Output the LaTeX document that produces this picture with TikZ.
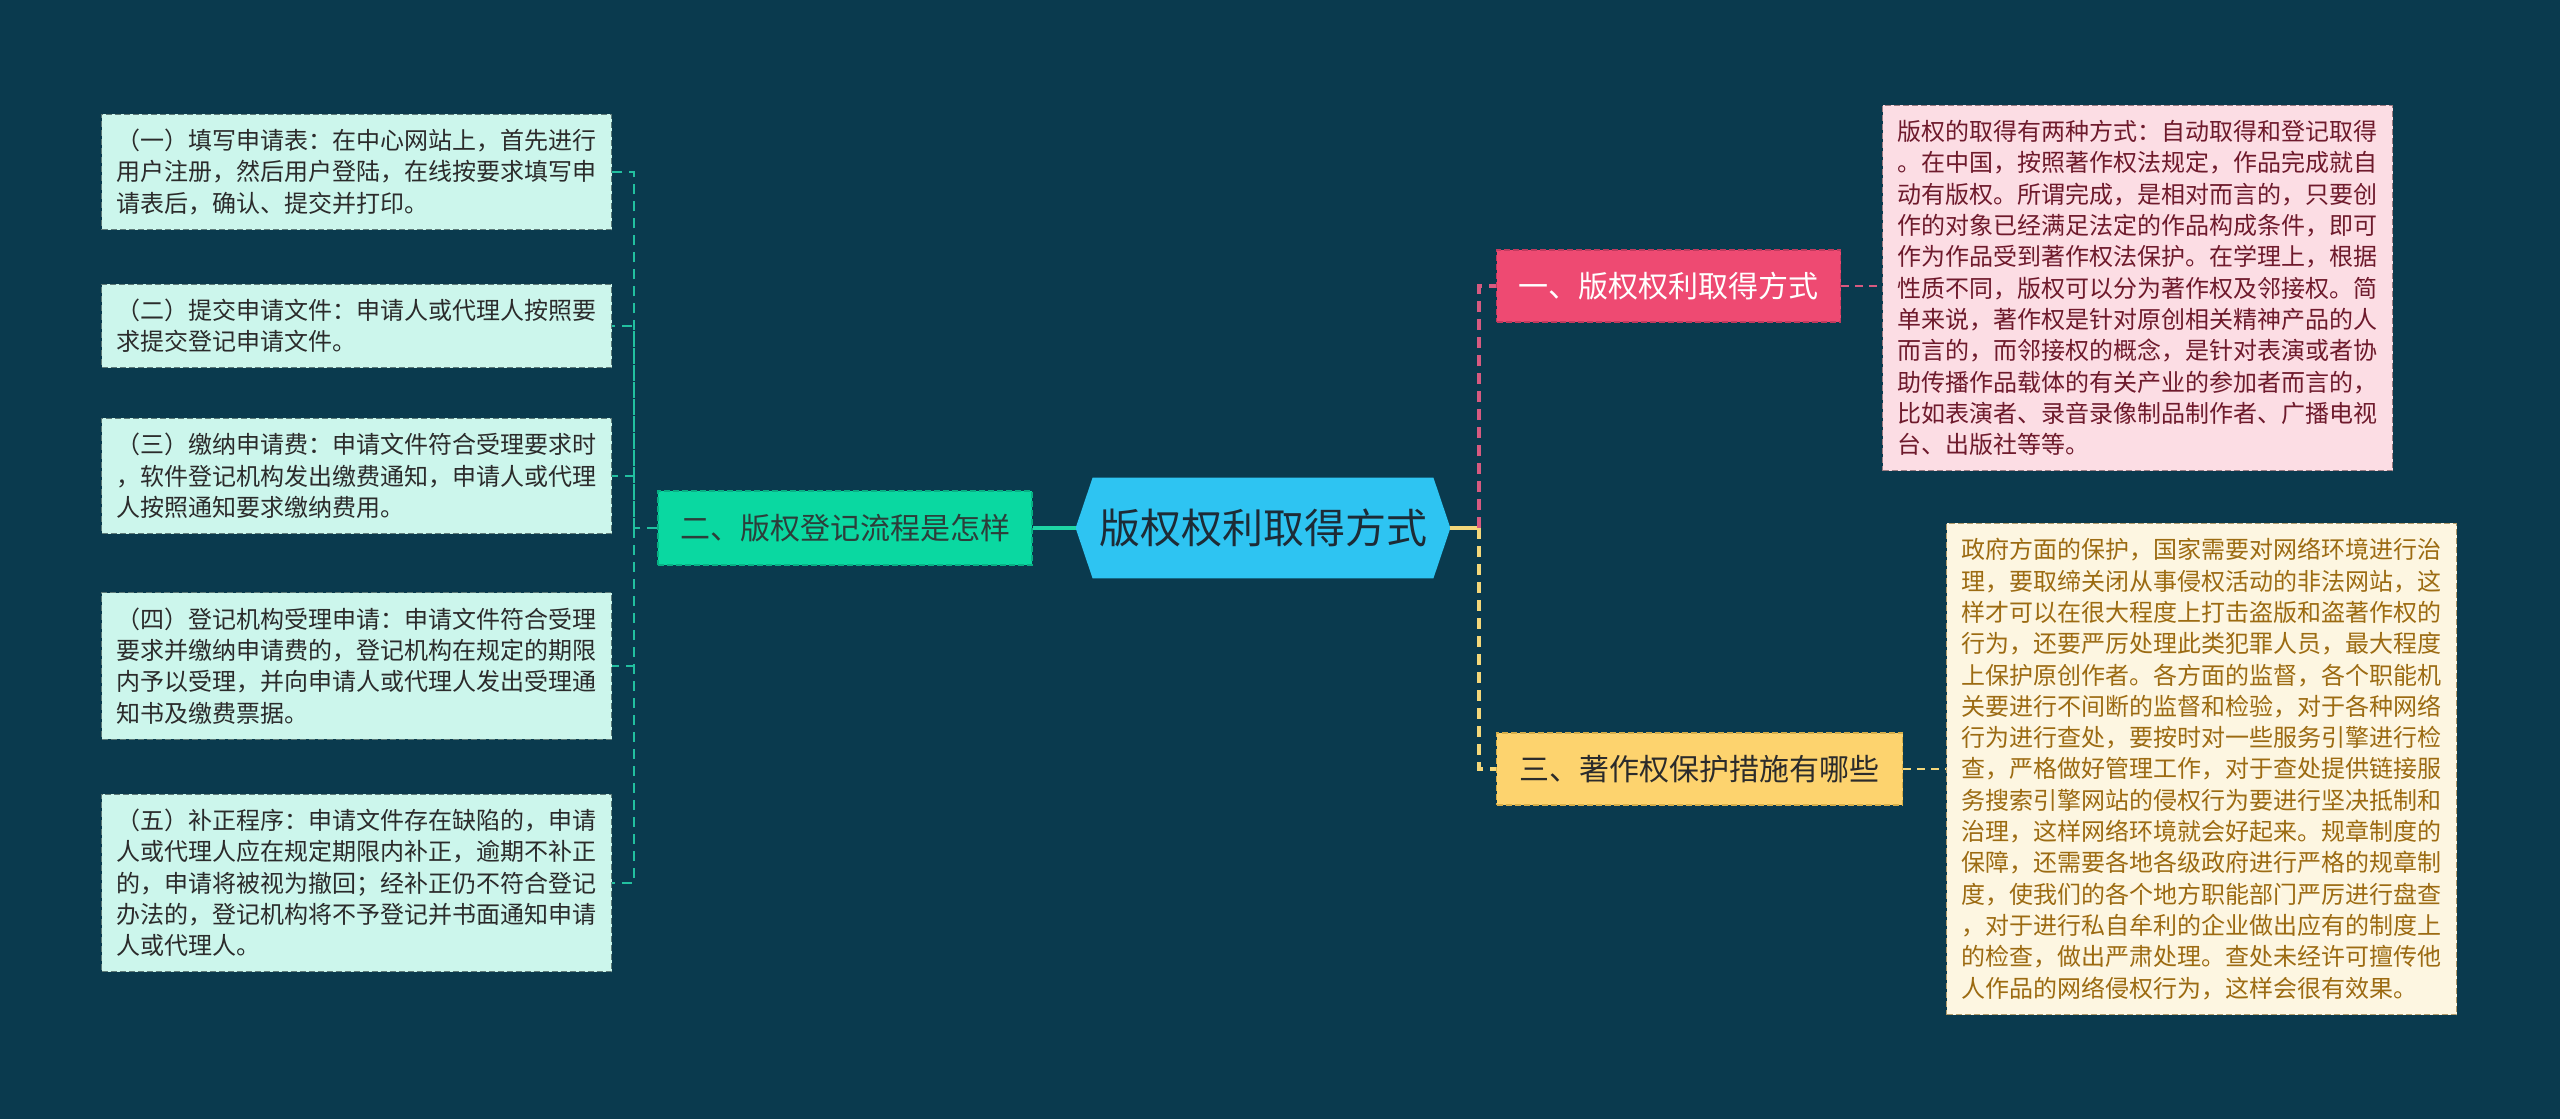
\documentclass[tikz,border=0pt]{standalone}
\usepackage{fontspec}
\setmainfont{Noto Sans CJK SC}
\usetikzlibrary{backgrounds}
\definecolor{bg}{HTML}{0A3A4E}
\definecolor{cfill}{HTML}{2EC4F2}
\definecolor{ctext}{HTML}{1D2B36}
\definecolor{gfill}{HTML}{0AD8A1}
\definecolor{gborder}{HTML}{08B084}
\definecolor{gtext}{HTML}{2C3E3A}
\definecolor{gline}{HTML}{1ED5A4}
\definecolor{tline}{HTML}{22C0A0}
\definecolor{lfill}{HTML}{CCF6EC}
\definecolor{lborder}{HTML}{5E7A78}
\definecolor{ltext}{HTML}{2B2B2B}
\definecolor{pfill}{HTML}{EE4A72}
\definecolor{pborder}{HTML}{C23A5E}
\definecolor{pline}{HTML}{D75A80}
\definecolor{ptfill}{HTML}{FCDDE4}
\definecolor{ptborder}{HTML}{9A7A80}
\definecolor{pttext}{HTML}{6E1A2C}
\definecolor{yfill}{HTML}{FDD36E}
\definecolor{yborder}{HTML}{D6AE4A}
\definecolor{yline}{HTML}{F4D77A}
\definecolor{ytfill}{HTML}{FDF6E1}
\definecolor{ytborder}{HTML}{B09A6A}
\definecolor{yttext}{HTML}{9C6B12}
\tikzset{
  textbox/.style={dashed, dash pattern=on 3pt off 1.5pt, line width=0.5pt,
    font=\fontsize{12pt}{15.65pt}\selectfont, text width=240pt, align=left,
    inner xsep=7.5pt, inner ysep=7.5pt},
  leafbox/.style={textbox, draw=lborder, fill=lfill, text=ltext},
  branchbox/.style={dash pattern=on 3pt off 1.5pt, line width=0.6pt,
    font=\fontsize{15pt}{18pt}\selectfont, inner xsep=10pt, minimum height=36pt},
  tealdash/.style={draw=tline, line width=1pt, dash pattern=on 5pt off 3.5pt},
}
\begin{document}
\begin{tikzpicture}[x=0.5pt,y=-0.5pt]
\begin{pgfonlayer}{background}
\fill[bg] (0,0) rectangle (2560,1119);
\end{pgfonlayer}
\useasboundingbox (0,0) rectangle (2560,1119);

% central
\node[minimum width=187pt, minimum height=50pt, inner sep=0pt, text=ctext,
  font=\fontsize{20.5pt}{24pt}\selectfont] (c) at (1263,528) {版权权利取得方式};
\begin{pgfonlayer}{background}
\fill[cfill] (c.west) -- ([xshift=8.5pt]c.north west) -- ([xshift=-8.5pt]c.north east)
  -- (c.east) -- ([xshift=-8.5pt]c.south east) -- ([xshift=8.5pt]c.south west) -- cycle;
\end{pgfonlayer}

% left branch
\node[branchbox, draw=gborder, fill=gfill, text=gtext, minimum width=187pt, minimum height=37pt]
  (g) at (845,528) {二、版权登记流程是怎样};

% leaves
\node[leafbox, anchor=east] (l1) at (612,172) {（一）填写申请表：在中心网站上，首先进行\\用户注册，然后用户登陆，在线按要求填写申\\请表后，确认、提交并打印。};
\node[leafbox, anchor=east] (l2) at (612,326) {（二）提交申请文件：申请人或代理人按照要\\求提交登记申请文件。};
\node[leafbox, anchor=east] (l3) at (612,476) {（三）缴纳申请费：申请文件符合受理要求时\\，软件登记机构发出缴费通知，申请人或代理\\人按照通知要求缴纳费用。};
\node[leafbox, anchor=east] (l4) at (612,666) {（四）登记机构受理申请：申请文件符合受理\\要求并缴纳申请费的，登记机构在规定的期限\\内予以受理，并向申请人或代理人发出受理通\\知书及缴费票据。};
\node[leafbox, anchor=east] (l5) at (612,883) {（五）补正程序：申请文件存在缺陷的，申请\\人或代理人应在规定期限内补正，逾期不补正\\的，申请将被视为撤回；经补正仍不符合登记\\办法的，登记机构将不予登记并书面通知申请\\人或代理人。};

% right branches
\node[branchbox, draw=pborder, fill=pfill, text=white, anchor=west, minimum width=172pt]
  (p) at (1496,286) {一、版权权利取得方式};
\node[branchbox, draw=yborder, fill=yfill, text=ltext, anchor=west, minimum width=203pt]
  (y) at (1496,769) {三、著作权保护措施有哪些};

\node[textbox, draw=ptborder, fill=ptfill, text=pttext, anchor=west] (pt) at (1882,288)
  {版权的取得有两种方式：自动取得和登记取得\\。在中国，按照著作权法规定，作品完成就自\\动有版权。所谓完成，是相对而言的，只要创\\作的对象已经满足法定的作品构成条件，即可\\作为作品受到著作权法保护。在学理上，根据\\性质不同，版权可以分为著作权及邻接权。简\\单来说，著作权是针对原创相关精神产品的人\\而言的，而邻接权的概念，是针对表演或者协\\助传播作品载体的有关产业的参加者而言的，\\比如表演者、录音录像制品制作者、广播电视\\台、出版社等等。};
\node[textbox, draw=ytborder, fill=ytfill, text=yttext, anchor=west] (yt) at (1946,769)
  {政府方面的保护，国家需要对网络环境进行治\\理，要取缔关闭从事侵权活动的非法网站，这\\样才可以在很大程度上打击盗版和盗著作权的\\行为，还要严厉处理此类犯罪人员，最大程度\\上保护原创作者。各方面的监督，各个职能机\\关要进行不间断的监督和检验，对于各种网络\\行为进行查处，要按时对一些服务引擎进行检\\查，严格做好管理工作，对于查处提供链接服\\务搜索引擎网站的侵权行为要进行坚决抵制和\\治理，这样网络环境就会好起来。规章制度的\\保障，还需要各地各级政府进行严格的规章制\\度，使我们的各个地方职能部门严厉进行盘查\\，对于进行私自牟利的企业做出应有的制度上\\的检查，做出严肃处理。查处未经许可擅传他\\人作品的网络侵权行为，这样会很有效果。};

% connectors
\coordinate (lj) at (634,528);
\coordinate (rj) at (1479,528);
\draw[gline, line width=2pt] (c.west) -- (g.east);
\draw[tealdash] (g.west) -- (lj) |- (l1.east);
\draw[tealdash] (lj) |- (l2.east);
\draw[tealdash] (lj) |- (l3.east);
\draw[tealdash] (lj) |- (l4.east);
\draw[tealdash] (lj) |- (l5.east);
\draw[yline, line width=2pt] (c.east) -- (rj);
\draw[pline, line width=2.2pt, dash pattern=on 5.5pt off 3.5pt] (rj) |- (p.west);
\draw[yline, line width=2.2pt, dash pattern=on 5.5pt off 3.5pt] (rj) |- (y.west);
\draw[pline, line width=1pt, dash pattern=on 4pt off 3pt] (p.east) -- (pt.west |- p.east);
\draw[yline, line width=1pt, dash pattern=on 4pt off 3pt] (y.east) -- (yt.west);
\end{tikzpicture}
\end{document}
